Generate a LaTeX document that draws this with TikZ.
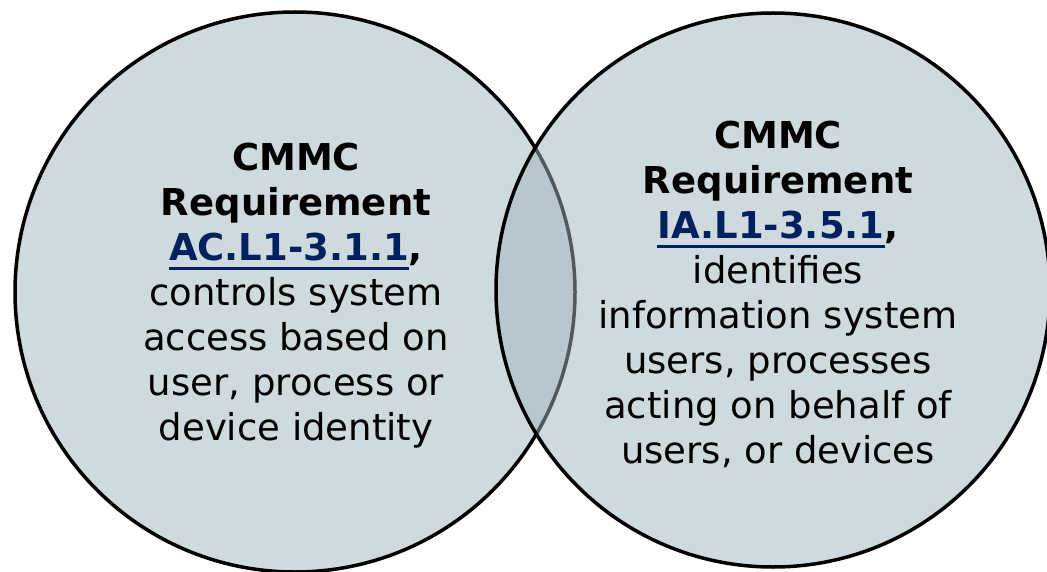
\documentclass[tikz,border=0pt]{standalone}
\usepackage{fontspec}
\setmainfont{DejaVu Sans}
\definecolor{vennfill}{RGB}{159,181,189}
\definecolor{linkblue}{RGB}{0,32,96}
% underlined requirement id
\newcommand{\reqlink}[1]{\textcolor{linkblue}{\setbox0\hbox{#1}\rlap{\rule[-10pt]{\wd0}{3.5pt}}\box0}}
\tikzset{
  venn/.style={circle, draw=black, line width=3.5pt, fill=vennfill, fill opacity=0.5,
    draw opacity=1, minimum size=#1, inner sep=0pt},
  reqtext/.style={align=center, inner sep=0pt, anchor=base,
    font=\fontsize{37}{45}\selectfont}
}
\begin{document}
\begin{tikzpicture}[x=1pt,y=-1pt]
\useasboundingbox (0,0) rectangle (1047,572);
\clip (0,0) rectangle (1047,572);
  \node[venn=560pt] (ac) at (295,292) {};
  \node[venn=554pt] (ia) at (773,290) {};
  % base anchor sits on the last line
  \node[reqtext] (actext) at (296,440) {\textbf{CMMC}\\ \textbf{Requirement}\\
    \textbf{\reqlink{AC.L1-3.1.1},}\\ controls system\\ access based on\\
    user, process or\\ device identity};
  \node[reqtext] (iatext) at (778,463) {\textbf{CMMC}\\ \textbf{Requirement}\\
    \textbf{\reqlink{IA.L1-3.5.1},}\\ identifies\\ information system\\
    users, processes\\ acting on behalf of\\ users, or devices};
\end{tikzpicture}
\end{document}
